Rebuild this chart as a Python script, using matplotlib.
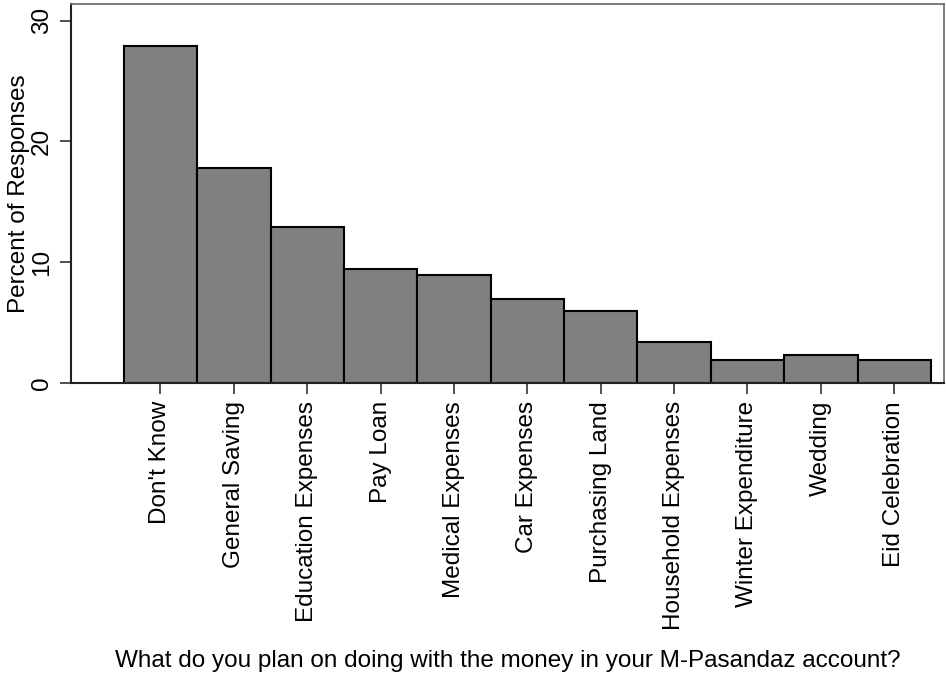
import matplotlib
matplotlib.use('Agg')
import matplotlib.pyplot as plt

plt.rcParams['font.family'] = ['Liberation Sans', 'DejaVu Sans']

categories = ["Don't Know", 'General Saving', 'Education Expenses', 'Pay Loan',
              'Medical Expenses', 'Car Expenses', 'Purchasing Land',
              'Household Expenses', 'Winter Expenditure', 'Wedding', 'Eid Celebration']
percents = [27.9, 17.8, 12.9, 9.45, 8.95, 6.95, 5.95, 3.4, 1.9, 2.3, 1.9]
yticks = [0, 10, 20, 30]

fig = plt.figure(figsize=(9.46, 6.74), dpi=100)
ax = fig.add_axes([0.075, 0.432, 0.923, 0.5616])

pos = list(range(1, len(categories) + 1))
ax.bar(pos, percents, width=1.0, color='#808080', edgecolor='black', linewidth=1.5)

ax.set_xlim(-0.22, 11.68)
ax.set_ylim(0, 31.35)
ax.set_xticks(pos)
ax.set_xticklabels(categories, rotation=90, fontsize=17.5)
ax.set_yticks(yticks)
ax.set_yticklabels([str(t) for t in yticks], rotation=90, va='center', fontsize=17.5)
ax.tick_params(axis='both', direction='out', length=8, width=1.2, color='#333333', pad=5)

ax.set_ylabel('Percent of Responses', fontsize=17.5, labelpad=1)
ax.set_xlabel('What do you plan on doing with the money in your M-Pasandaz account?',
              fontsize=17.5, labelpad=14)

for side in ['left', 'bottom']:
    ax.spines[side].set_color('#222222')
    ax.spines[side].set_linewidth(1.5)
for side in ['top', 'right']:
    ax.spines[side].set_color('#666666')
    ax.spines[side].set_linewidth(1.2)

plt.savefig('out.png', dpi=100)
